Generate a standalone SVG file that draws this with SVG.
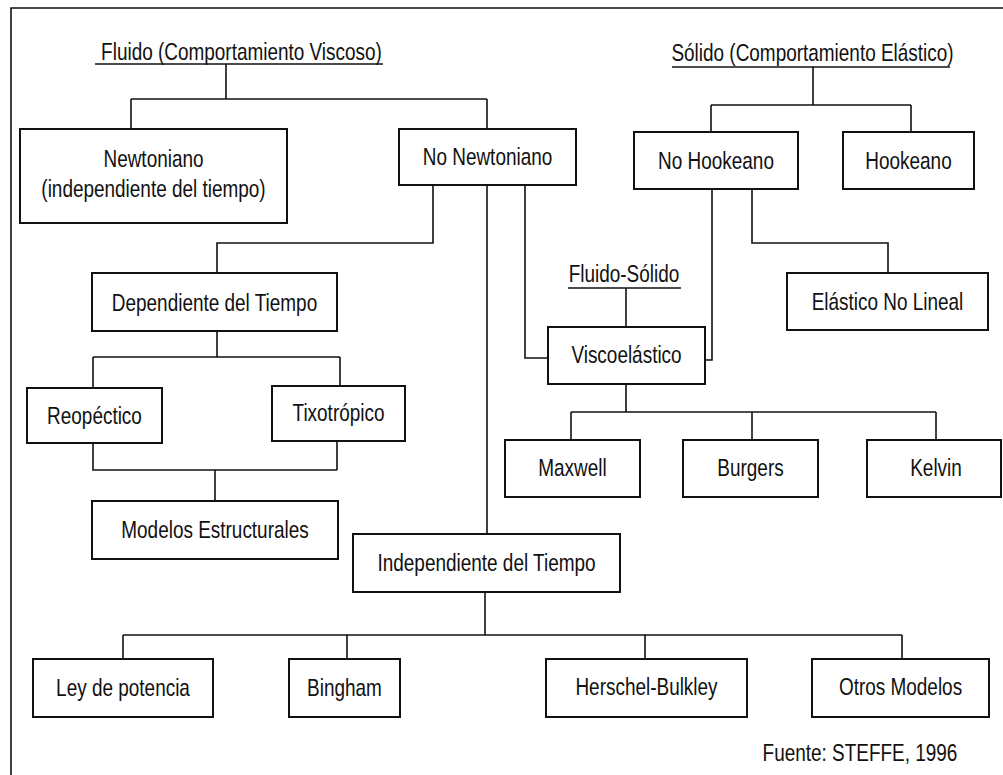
<svg xmlns="http://www.w3.org/2000/svg" width="1003" height="775" viewBox="0 0 1003 775">
<style>
.b{fill:#fff;stroke:#111;stroke-width:2}
.c{fill:none;stroke:#111;stroke-width:1.6}
.t{font-family:"Liberation Sans",Arial,sans-serif;font-size:24px;fill:#111;text-anchor:middle}
</style>
<rect width="1003" height="775" fill="#fff"/>
<path class="c" d="M11 775 V8 H1003" stroke-width="2"/>
<g id="connectors">
<path class="c" d="M226 64 V99 M131 99 H487 M131 99 V129 M487 99 V129"/>
<path class="c" d="M813 67 V105 M711 105 H911 M711 105 V132 M911 105 V132"/>
<path class="c" d="M433 185 V243 H217 V273"/>
<path class="c" d="M487 185 V534"/>
<path class="c" d="M525 185 V358 H548"/>
<path class="c" d="M712 189 V360 H705"/>
<path class="c" d="M752 189 V243 H888 V273"/>
<path class="c" d="M626 288 V327"/>
<path class="c" d="M626 384 V412 M571 412 H936 M571 412 V440 M752 412 V440 M936 412 V440"/>
<path class="c" d="M217 331 V357 M93 357 H340 M93 357 V388 M340 357 V386"/>
<path class="c" d="M93 443 V470 H337 M337 441 V470 M215 470 V501"/>
<path class="c" d="M485 592 V635 M123 635 H902 M123 635 V659 M347 635 V659 M645 635 V659 M902 635 V659"/>
</g>
<g id="fluido">
<text class="t" transform="translate(241.5 60) scale(0.79 1)">Fluido (Comportamiento Viscoso)</text>
<path class="c" d="M95 64 H383"/>
</g>
<g id="solido">
<text class="t" transform="translate(812.5 61) scale(0.79 1)">Sólido (Comportamiento Elástico)</text>
<path class="c" d="M672 67 H950"/>
</g>
<g id="fluido-solido">
<text class="t" transform="translate(624 282) scale(0.79 1)">Fluido-Sólido</text>
<path class="c" d="M568 288 H681"/>
</g>
<g id="newtoniano">
<rect class="b" x="20" y="129" width="267" height="94"/>
<text class="t" transform="translate(153.5 167) scale(0.79 1)">Newtoniano</text>
<text class="t" transform="translate(153.5 197) scale(0.79 1)">(independiente del tiempo)</text>
</g>
<g id="no-newtoniano">
<rect class="b" x="399" y="129" width="177" height="56"/>
<text class="t" transform="translate(487.5 165) scale(0.79 1)">No Newtoniano</text>
</g>
<g id="no-hookeano">
<rect class="b" x="634" y="132" width="164" height="57"/>
<text class="t" transform="translate(716 169) scale(0.79 1)">No Hookeano</text>
</g>
<g id="hookeano">
<rect class="b" x="843" y="132" width="131" height="57"/>
<text class="t" transform="translate(908.5 169) scale(0.79 1)">Hookeano</text>
</g>
<g id="dependiente">
<rect class="b" x="92" y="273" width="245" height="58"/>
<text class="t" transform="translate(214.5 311) scale(0.79 1)">Dependiente del Tiempo</text>
</g>
<g id="elastico-no-lineal">
<rect class="b" x="787" y="273" width="201" height="57"/>
<text class="t" transform="translate(887.5 310) scale(0.79 1)">Elástico No Lineal</text>
</g>
<g id="viscoelastico">
<rect class="b" x="548" y="327" width="157" height="57"/>
<text class="t" transform="translate(626.5 363) scale(0.79 1)">Viscoelástico</text>
</g>
<g id="reopectico">
<rect class="b" x="27" y="388" width="135" height="55"/>
<text class="t" transform="translate(94.5 424) scale(0.79 1)">Reopéctico</text>
</g>
<g id="tixotropico">
<rect class="b" x="272" y="386" width="133" height="55"/>
<text class="t" transform="translate(338.5 421) scale(0.79 1)">Tixotrópico</text>
</g>
<g id="maxwell">
<rect class="b" x="505" y="440" width="135" height="57"/>
<text class="t" transform="translate(572.5 476) scale(0.79 1)">Maxwell</text>
</g>
<g id="burgers">
<rect class="b" x="683" y="440" width="135" height="57"/>
<text class="t" transform="translate(750.5 476) scale(0.79 1)">Burgers</text>
</g>
<g id="kelvin">
<rect class="b" x="867" y="440" width="134" height="57"/>
<text class="t" transform="translate(936 476) scale(0.79 1)">Kelvin</text>
</g>
<g id="modelos-estructurales">
<rect class="b" x="92" y="501" width="246" height="58"/>
<text class="t" transform="translate(215 538) scale(0.79 1)">Modelos Estructurales</text>
</g>
<g id="independiente">
<rect class="b" x="353" y="534" width="267" height="58"/>
<text class="t" transform="translate(486.5 571) scale(0.79 1)">Independiente del Tiempo</text>
</g>
<g id="ley-potencia">
<rect class="b" x="33" y="659" width="180" height="58"/>
<text class="t" transform="translate(123 696) scale(0.79 1)">Ley de potencia</text>
</g>
<g id="bingham">
<rect class="b" x="289" y="659" width="111" height="58"/>
<text class="t" transform="translate(344.5 696) scale(0.79 1)">Bingham</text>
</g>
<g id="herschel-bulkley">
<rect class="b" x="546" y="659" width="201" height="58"/>
<text class="t" transform="translate(646.5 695) scale(0.79 1)">Herschel-Bulkley</text>
</g>
<g id="otros-modelos">
<rect class="b" x="812" y="659" width="177" height="58"/>
<text class="t" transform="translate(900.5 695) scale(0.79 1)">Otros Modelos</text>
</g>
<g id="fuente">
<text class="t" transform="translate(860 761) scale(0.79 1)">Fuente: STEFFE, 1996</text>
</g>
</svg>
